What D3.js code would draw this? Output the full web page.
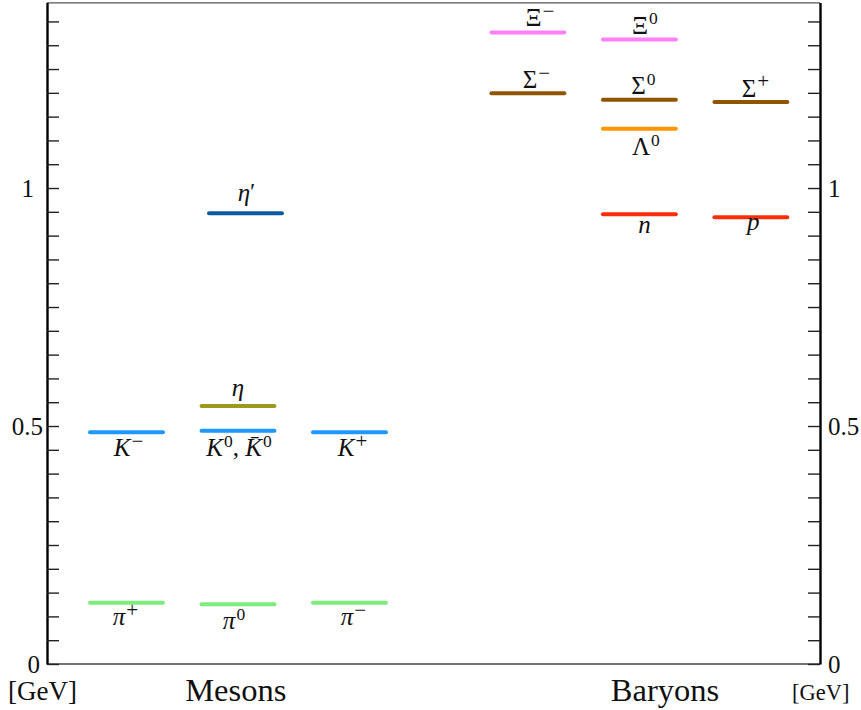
<!DOCTYPE html>
<html>
<head>
<meta charset="utf-8">
<script src="https://cdn.jsdelivr.net/npm/d3@7"></script>
<style>
  body { margin: 0; background: #fff; }
  text { font-family: "Liberation Serif", "DejaVu Serif", serif; fill: #111; }
</style>
</head>
<body>
<svg id="chart" width="861" height="710"></svg>
<script>
// Ground-state hadron masses in GeV, one level per particle
const particles = ["pi+", "pi0", "pi-", "K-", "K0", "K+", "eta", "eta'", "Xi-", "Xi0", "Sigma-", "Sigma0", "Sigma+", "Lambda0", "n", "p"];
const masses    = [0.1288, 0.1254, 0.1288, 0.4867, 0.4900, 0.4867, 0.5420, 0.9468, 1.3270, 1.3120, 1.1990, 1.1855, 1.1810, 1.1246, 0.9447, 0.9384];
const columns   = [0, 1, 2, 0, 1, 2, 1, 1, 3, 4, 3, 4, 5, 4, 4, 5];
const families  = ["pion", "pion", "pion", "kaon", "kaon", "kaon", "eta", "etaPrime", "xi", "xi", "sigma", "sigma", "sigma", "lambda", "nucleon", "nucleon"];
const labelBase = ["π", "π", "π", "K", "K", "K", "η", "η", "Ξ", "Ξ", "Σ", "Σ", "Σ", "Λ", "n", "p"];
const labelSup  = ["+", "0", "−", "−", "0", "+", "", "′", "−", "0", "−", "0", "+", "0", "", ""];

// x position of each level column and of the two group titles
const columnSlots = [0, 1, 2, 3.6, 4.6, 5.6];
const groups = ["Mesons", "Baryons"];
const groupSlots = [0.98, 4.83];

// axis ticks
const minorTicks = d3.range(28).map(i => +(i * 0.05).toFixed(2));
const majorTicks = [0, 0.5, 1];
const majorTickLabels = ["0", "0.5", "1"];
const unitLabel = "[GeV]";

const color = {
  pion: "#7cec7c", kaon: "#1e98ff", eta: "#9b9a1c", etaPrime: "#0d5aa0",
  xi: "#ff80f6", sigma: "#8f5500", lambda: "#ff9600", nucleon: "#ff2d08"
};

// label placement relative to the level's centre (dx) and line (dy, to baseline)
const labelPlace = {
  "pi+": [-1, 22.5], "pi0": [-4, 25], "pi-": [4, 22.5],
  "K-": [2, 24], "K0": [1, 25.5], "K+": [3, 24],
  "eta": [0, -10.5], "eta'": [1, -12.5],
  "Xi-": [12, -6.3], "Xi0": [5.5, -6], "Sigma-": [8.5, -5], "Sigma0": [4, -5.7], "Sigma+": [4.5, -5],
  "Lambda0": [6.5, 26.3], "n": [5, 18.4], "p": [2.5, 12.3]
};
const levelShift = { "eta'": 0.067 };

const W = 861, H = 710;
const plotLeft = 47, plotRight = 820, plotTop = 2.4, plotBottom = 664;
const symSize = 25, supSize = 17.5, supRise = 9.5, signSize = 21, signRise = 8.5;

const svg = d3.select("#chart");
svg.append("rect").attr("width", W).attr("height", H).attr("fill", "#fff");

const x = d3.scaleLinear().domain([-0.713, 6.22]).range([plotLeft, plotRight]);
const y = d3.scaleLinear().domain([0, 1.39]).range([plotBottom, plotTop]);

// frame: thin top and bottom edges
svg.append("line").attr("x1", plotLeft).attr("x2", plotRight).attr("y1", plotTop + 0.5).attr("y2", plotTop + 0.5)
  .attr("stroke", "#555").attr("stroke-width", 1.2);
svg.append("line").attr("x1", plotLeft).attr("x2", plotRight).attr("y1", plotBottom).attr("y2", plotBottom)
  .attr("stroke", "#444").attr("stroke-width", 1.3);

// left and right mass axes with inward ticks
function styleAxis(g) {
  g.select(".domain").attr("stroke", "#000").attr("stroke-width", 2.4);
  g.selectAll(".tick line").attr("stroke", "#222").attr("stroke-width", 1.4);
  g.selectAll(".tick text").remove();
}
svg.append("g").attr("transform", `translate(${plotLeft},0)`)
  .call(d3.axisRight(y).tickValues(minorTicks).tickSize(12).tickSizeOuter(0))
  .call(styleAxis);
svg.append("g").attr("transform", `translate(${plotRight},0)`)
  .call(d3.axisLeft(y).tickValues(minorTicks).tickSize(12).tickSizeOuter(0))
  .call(styleAxis);

// tick numbers
const leftEnd = { "0": 40, "0.5": 43, "1": 34 };
majorTicks.forEach((v, i) => {
  svg.append("text").attr("x", leftEnd[majorTickLabels[i]]).attr("y", y(v) + 8.5)
    .attr("text-anchor", "end").attr("font-size", 25).text(majorTickLabels[i]);
  svg.append("text").attr("x", 828).attr("y", y(v) + 8.5)
    .attr("text-anchor", "start").attr("font-size", 25).text(majorTickLabels[i]);
});
svg.append("text").attr("x", 8).attr("y", 700).attr("font-size", 27).text(unitLabel);
svg.append("text").attr("x", 792).attr("y", 700).attr("font-size", 22.5).text(unitLabel);

// group titles
groups.forEach((gname, i) => {
  svg.append("text").attr("x", x(groupSlots[i])).attr("y", 701).attr("text-anchor", "middle")
    .attr("font-size", 32.5).text(gname);
});

// mass levels
const halfWidth = 0.327;
const levels = particles.map((name, i) => ({
  name, m: masses[i], c: columnSlots[columns[i]] + (levelShift[name] || 0),
  fam: families[i], base: labelBase[i], sup: labelSup[i]
}));

svg.append("g").selectAll("line").data(levels).join("line")
  .attr("x1", d => x(d.c - halfWidth)).attr("x2", d => x(d.c + halfWidth))
  .attr("y1", d => y(d.m)).attr("y2", d => y(d.m))
  .attr("stroke", d => color[d.fam]).attr("stroke-width", 4).attr("stroke-linecap", "round");

// particle symbols
const italic = new Set(["π", "η", "K", "n", "p"]);
function addPart(t, str, isItalic) {
  return t.append("tspan").attr("font-style", isItalic ? "italic" : "normal").text(str);
}
function addSup(t, str) {
  const isSign = str === "+" || str === "−";
  t.append("tspan").attr("font-size", isSign ? signSize : supSize)
    .attr("dx", 1).attr("dy", -(isSign ? signRise : supRise)).text(str);
}
levels.forEach(d => {
  const [dx, dy] = labelPlace[d.name];
  const t = svg.append("text").attr("text-anchor", "middle")
    .attr("x", x(d.c) + dx).attr("y", y(d.m) + dy).attr("font-size", symSize);
  if (d.name === "K0") {
    addPart(t, "K", true);
    addSup(t, "0");
    t.append("tspan").attr("dy", supRise).text(", ");
    addPart(t, "K\u0304", true);
    addSup(t, "0");
    return;
  }
  addPart(t, d.base, italic.has(d.base));
  if (d.sup === "′") {
    t.append("tspan").attr("font-size", 24).attr("dy", -2).text(d.sup);
  } else if (d.sup) {
    addSup(t, d.sup);
  }
});
</script>
</body>
</html>
